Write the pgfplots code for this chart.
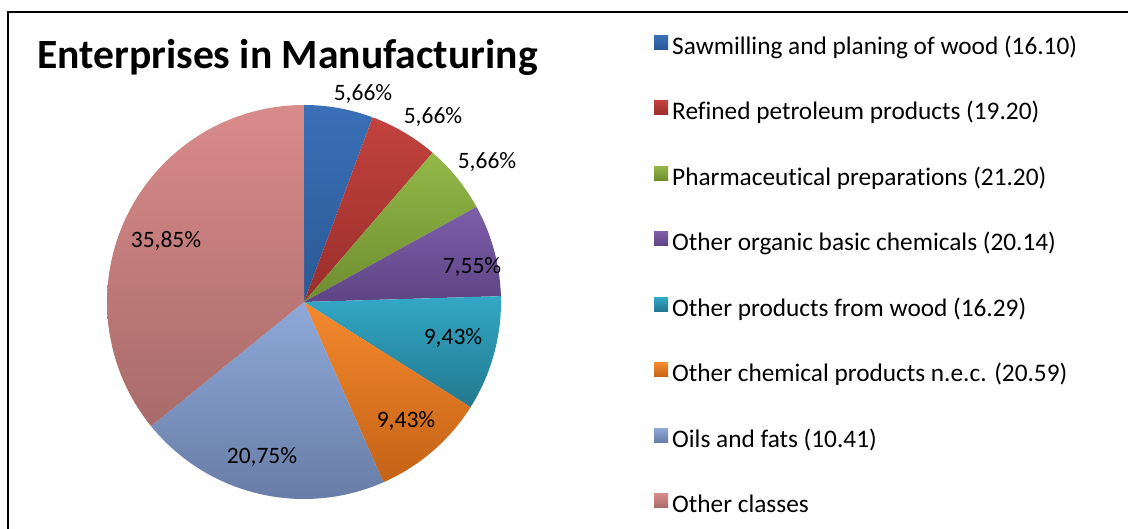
\documentclass[border=0pt]{standalone}
\usepackage{fontspec}
\setmainfont{Carlito}[Ligatures={NoCommon}]
\usepackage{pgfplots}
\pgfplotsset{compat=1.18}
\definecolor{blueT}{HTML}{3A70B8}\definecolor{blueB}{HTML}{2A5895}
\definecolor{redT}{HTML}{C2423E}\definecolor{redB}{HTML}{9A2E2B}
\definecolor{greenT}{HTML}{93B848}\definecolor{greenB}{HTML}{6E8D30}
\definecolor{purT}{HTML}{7D5EAA}\definecolor{purB}{HTML}{5E4484}
\definecolor{tealT}{HTML}{33A8C6}\definecolor{tealB}{HTML}{22788E}
\definecolor{oraT}{HTML}{F58A2E}\definecolor{oraB}{HTML}{C46216}
\definecolor{lbT}{HTML}{8EA9D9}\definecolor{lbB}{HTML}{687DA6}
\definecolor{pkT}{HTML}{D98B8A}\definecolor{pkB}{HTML}{A86B6A}
\begin{document}
\begin{tikzpicture}
\useasboundingbox (0,0) rectangle (1128pt,529pt);
\begin{axis}[
  at={(0pt,0pt)}, anchor=south west,
  x=1pt, y=1pt, xmin=0, xmax=1128, ymin=0, ymax=529,
  hide axis, clip=false, enlargelimits=false,
  legend style={draw=none, fill=none, at={(axis cs:651,496)}, anchor=north west,
    font=\fontsize{25.3}{30}\selectfont, row sep=39.5pt, column sep=4pt,
    nodes={inner sep=0pt, text height=17pt, text depth=7pt}},
  legend cell align=left,
  legend image code/.code={\path[#1] (0pt,0pt) rectangle (14pt,14pt);},
]
\addplot[draw=none, top color=blueT, bottom color=blueB, domain=90:69.623, samples=40, variable=\t] ({304+197*cos(\t)},{227+197*sin(\t)}) -- (axis cs:304,227) -- cycle;
\addlegendentry{Sawmilling and planing of wood (16.10)}
\addplot[draw=none, top color=redT, bottom color=redB, domain=69.623:49.245, samples=40, variable=\t] ({304+197*cos(\t)},{227+197*sin(\t)}) -- (axis cs:304,227) -- cycle;
\addlegendentry{Refined petroleum products (19.20)}
\addplot[draw=none, top color=greenT, bottom color=greenB, domain=49.245:28.868, samples=40, variable=\t] ({304+197*cos(\t)},{227+197*sin(\t)}) -- (axis cs:304,227) -- cycle;
\addlegendentry{Pharmaceutical preparations (21.20)}
\addplot[draw=none, top color=purT, bottom color=purB, domain=28.868:1.698, samples=40, variable=\t] ({304+197*cos(\t)},{227+197*sin(\t)}) -- (axis cs:304,227) -- cycle;
\addlegendentry{Other organic basic chemicals (20.14)}
\addplot[draw=none, top color=tealT, bottom color=tealB, domain=1.698:-32.264, samples=40, variable=\t] ({304+197*cos(\t)},{227+197*sin(\t)}) -- (axis cs:304,227) -- cycle;
\addlegendentry{Other products from wood (16.29)}
\addplot[draw=none, top color=oraT, bottom color=oraB, domain=-32.264:-66.226, samples=40, variable=\t] ({304+197*cos(\t)},{227+197*sin(\t)}) -- (axis cs:304,227) -- cycle;
\addlegendentry{Other chemical products n.e.c. (20.59)}
\addplot[draw=none, top color=lbT, bottom color=lbB, domain=-66.226:-140.943, samples=60, variable=\t] ({304+197*cos(\t)},{227+197*sin(\t)}) -- (axis cs:304,227) -- cycle;
\addlegendentry{Oils and fats (10.41)}
\addplot[draw=none, top color=pkT, bottom color=pkB, domain=-140.943:-270, samples=80, variable=\t] ({304+197*cos(\t)},{227+197*sin(\t)}) -- (axis cs:304,227) -- cycle;
\addlegendentry{Other classes}
% percentage labels
\begin{scope}[every node/.style={anchor=base, inner sep=0pt, font=\fontsize{23.5}{28}\selectfont}]
\node at (axis cs:363,428) {5,66\%};
\node at (axis cs:433,405.5) {5,66\%};
\node at (axis cs:487,360.5) {5,66\%};
\node at (axis cs:472,255.5) {7,55\%};
\node at (axis cs:453,184.5) {9,43\%};
\node at (axis cs:406,101.5) {9,43\%};
\node at (axis cs:262,65.5) {20,75\%};
\node at (axis cs:166,281.5) {35,85\%};
\end{scope}
\node[anchor=base west, inner sep=0pt, font=\fontsize{41.6}{48}\selectfont\bfseries] at (axis cs:37,460) {Enterprises in Manufacturing};
\draw[line width=1.3pt] (axis cs:8,-20) -- (axis cs:8,517) -- (axis cs:1150,517);
\end{axis}
\end{tikzpicture}
\end{document}
